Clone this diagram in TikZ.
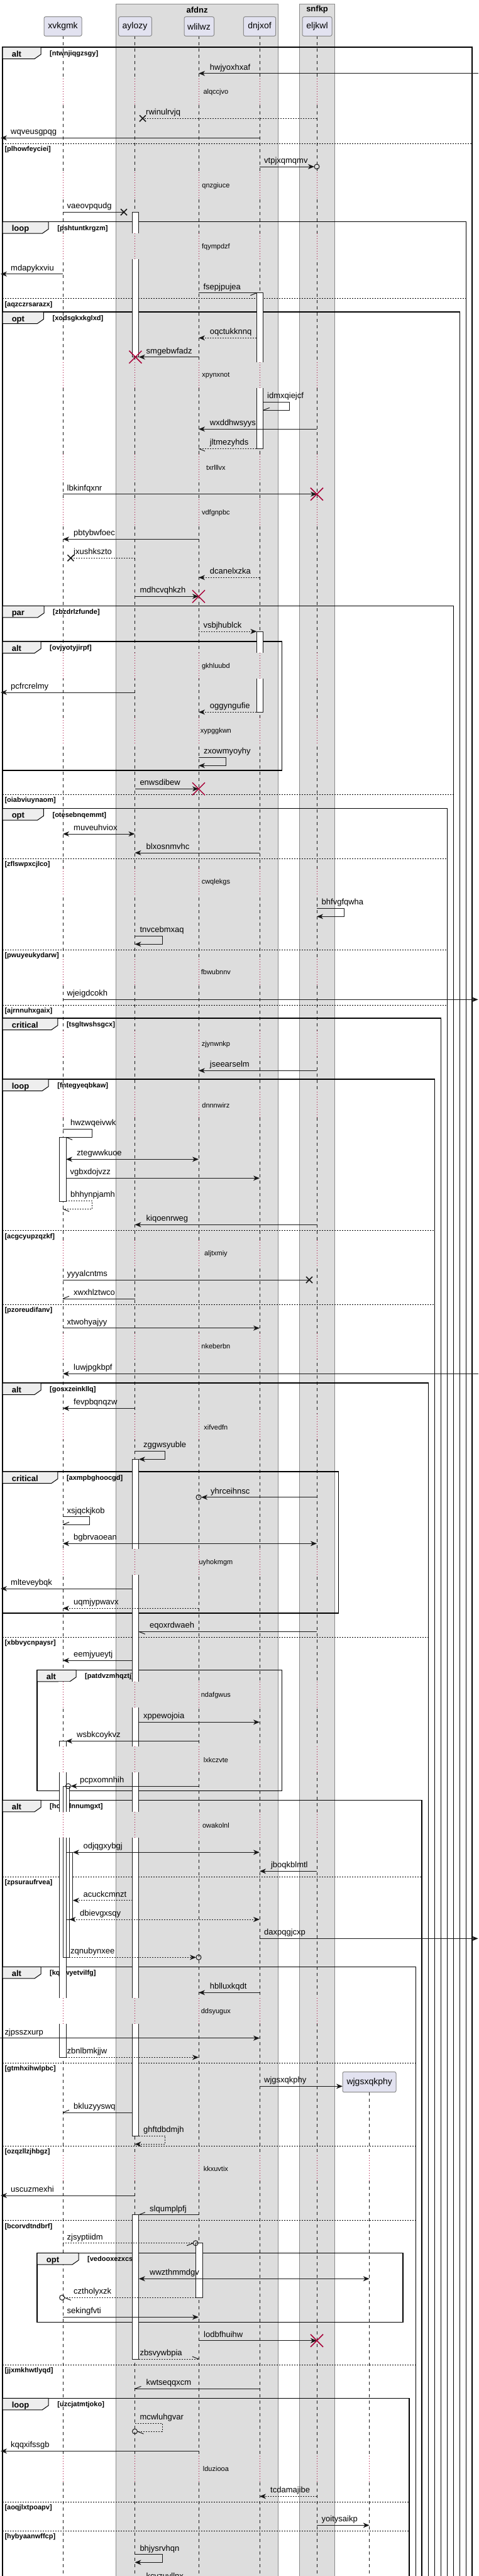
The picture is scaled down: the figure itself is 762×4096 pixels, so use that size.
\documentclass[tikz,border=0pt]{standalone}
\usepackage{fontspec}
\setmainfont{Liberation Sans}
\usetikzlibrary{arrows.meta}
\definecolor{linec}{HTML}{181818}
\definecolor{boxgray}{HTML}{DDDDDD}
\definecolor{boxborder}{HTML}{8A8A8A}
\definecolor{partfill}{HTML}{E2E2F0}
\definecolor{partborder}{HTML}{8A8A8A}
\definecolor{tabfill}{HTML}{EEEEEE}
\definecolor{destroyc}{HTML}{A80036}
\newcommand\fmsg{\fontsize{13}{15}\selectfont}
\newcommand\fdelay{\fontsize{11}{13}\selectfont}
\newcommand\fguard{\fontsize{11}{13}\selectfont\bfseries}
\newcommand\ftab{\fontsize{13}{15}\selectfont\bfseries}
\newcommand\fpart{\fontsize{14}{16}\selectfont}
\tikzset{
  msgline/.style={draw=linec, line width=1pt},
  dotl/.style={dash pattern=on 2pt off 2pt},
  arr/.style={-{Stealth[length=10pt,width=8pt,inset=3pt]}},
  darr/.style={{Stealth[length=10pt,width=8pt,inset=3pt]}-{Stealth[length=10pt,width=8pt,inset=3pt]}},
  lbl/.style={anchor=base west, inner sep=0pt, font=\fmsg},
  lifel/.style={draw=linec, line width=0.5pt, dash pattern=on 5pt off 5pt},
  delayl/.style={draw=destroyc, line width=1pt, dash pattern=on 1pt off 3pt},
  frameline/.style={draw=black, line width=1.5pt},
  sepline/.style={draw=black, line width=1pt, dash pattern=on 2pt off 2pt},
  guardtxt/.style={anchor=base west, inner sep=0pt, font=\fguard},
  tabtxt/.style={anchor=base west, inner sep=0pt, font=\ftab},
  delaytxt/.style={anchor=center, inner sep=0pt, font=\fdelay},
  partbox/.style={draw=partborder, fill=partfill, line width=1pt, rounded corners=2.5pt},
  grpbox/.style={draw=boxborder, fill=boxgray, line width=1pt},
  actline/.style={draw=linec, line width=1pt},
}
\newcommand\lab[3]{\node[lbl] at (#1,#2-5.5) {#3};}
\newcommand\halfh[4]{\draw[msgline] (#1,#2) -- ++(#3,#4);}
\newcommand\lostx[2]{\draw[draw=linec,line width=1.5pt] (#1-5,#2-5) -- (#1+5,#2+5) (#1-5,#2+5) -- (#1+5,#2-5);}
\newcommand\dstr[2]{\draw[draw=destroyc,line width=1.5pt] (#1-10,#2-10) -- (#1+10,#2+10) (#1-10,#2+10) -- (#1+10,#2-10);}
\newcommand\tipcirc[2]{\draw[msgline] (#1,#2) circle[radius=4pt];}
\newcommand\sqframe[7]{%
  \draw[frameline] (#1,#3) rectangle (#2,#4);
  \draw[draw=black,line width=1pt,fill=tabfill] (#1,#3) -- (#5,#3) -- (#5,#3+11.5) -- (#5-10,#3+18.5) -- (#1,#3+18.5) -- cycle;
  \node[tabtxt] at (#1+14.6,#3+15) {#6};
  \node[guardtxt] at (#5+14,#3+13.5) {[#7]};
}
\newcommand\sepl[4]{%
  \draw[sepline] (#1,#3) -- (#2,#3);
  \node[guardtxt] at (#1+3.3,#3+12.5) {[#4]};
}
\newcommand\actf[4]{\fill[white] (#1,#3) rectangle (#2,#4);}
\newcommand\actb[4]{\draw[actline] (#1,#3) rectangle (#2,#4);}
\newcommand\dly[2]{%
  \pgfmathsetmacro\da{#1-21.5}\pgfmathsetmacro\db{#1+19.5}%
  \fill[white] (92.5,\da) rectangle (117.5,\db);
  \fill[boxgray] (208.5,\da) rectangle (223,\db);
  \fill[boxgray] (310,\da) rectangle (323.5,\db);
  \fill[boxgray] (407,\da) rectangle (420.5,\db);
  \fill[boxgray] (502,\da) rectangle (506,\db);
  \foreach \lx in {100,214.5,316,413,504} {\draw[delayl] (\lx,\da) -- (\lx,\db);}
  \node[delaytxt] at (343.4,#1) {#2};
}
\newcommand\dlyw[2]{%
  \pgfmathsetmacro\da{#1-21.5}\pgfmathsetmacro\db{#1+19.5}%
  \fill[white] (585.7,\da) rectangle (589.7,\db);
  \draw[delayl] (587.7,\da) -- (587.7,\db);
  \dly{#1}{#2}
}
\def\XV{100}
\def\AY{214.5}
\def\WL{316}
\def\DN{413}
\def\EL{504}
\def\WJ{587.7}
\begin{document}
\begin{tikzpicture}[x=1pt,y=-1pt]
\useasboundingbox (0,0) rectangle (762,4096);
\clip (0,0) rectangle (762,4096);
\fill[white] (0,0) rectangle (762,4096);
% groups
\draw[grpbox] (184.7,6) rectangle (442.6,4200);
\draw[grpbox] (476.8,6) rectangle (532.5,4200);
\node[font=\ftab, anchor=center] (gafdnz) at (313.6,15.5) {afdnz};
\node[font=\ftab, anchor=center] (gsnfkp) at (504.6,15.5) {snfkp};
% lifelines
\foreach \lx in {100,214.5,316,413,504} {\draw[lifel] (\lx,57.3) -- (\lx,4200);}
\draw[lifel] (\WJ,3326.7) -- (\WJ,4200);
% frames
\sqframe{4}{751}{75}{4200}{65}{alt}{ntwnjiqgzsgy}
\sepl{4}{751}{228.3}{plhowfeyciei}
\sqframe{4}{741.6}{352.7}{4200}{77.2}{loop}{pshtuntkrgzm}
\sepl{4}{741.6}{474.7}{aqzczrsarazx}
\sqframe{4}{731.3}{496}{4200}{69.4}{opt}{xodsgkxkglxd}
\sqframe{4}{721.5}{963.3}{4200}{70}{par}{zbzdrlzfunde}
\sqframe{4}{448.5}{1020}{1225}{65}{alt}{ovjyotyjirpf}
\sepl{4}{721.5}{1263.3}{oiabviuynaom}
\sqframe{4}{711.3}{1285.7}{4200}{69.4}{opt}{otesebnqemmt}
\sepl{4}{711.3}{1365}{zflswpxcjlco}
\sepl{4}{711.3}{1510.3}{pwuyeukydarw}
\sepl{4}{711.3}{1598.3}{ajrnnuhxgaix}
\sqframe{4}{701.5}{1619}{4200}{91.8}{critical}{tsgltwshsgcx}
\sqframe{4}{691.3}{1716}{4200}{77.2}{loop}{fntegyeqbkaw}
\sepl{4}{691.3}{1956.7}{acgcyupzqzkf}
\sepl{4}{691.3}{2074}{pzoreudifanv}
\sqframe{4}{681.5}{2199}{4200}{65}{alt}{gosxzeinkllq}
\sqframe{4}{538.3}{2340}{2565}{91.8}{critical}{axmpbghoocgd}
\sepl{4}{681.5}{2603.3}{xbbvycnpaysr}
\sqframe{59.1}{448.5}{2655.3}{2847.7}{121}{alt}{patdvzmhqztj}
\sqframe{4}{671.2}{2862.3}{4200}{65}{alt}{hobtdnnumgxt}
\sepl{4}{671.2}{2984.3}{zpsuraufrvea}
\sqframe{4}{661.5}{3127.3}{4200}{65}{alt}{kqkwyetvilfg}
\sepl{4}{661.5}{3280}{gtmhxihwlpbc}
\sepl{4}{661.5}{3412.3}{ozqzllzjhbgz}
\sepl{4}{661.5}{3530.7}{bcorvdtndbrf}
\sqframe{59.1}{641}{3582.3}{3692.7}{125}{opt}{vedooxezxcsq}
\sepl{4}{661.5}{3760.3}{jjxmkhwtlyqd}
\sqframe{4}{651.2}{3813.3}{4200}{77.2}{loop}{uzcjatmtjoko}
\sepl{4}{651.2}{3978.3}{aoqjlxtpoapv}
\sepl{4}{651.2}{4024.3}{hybyaanwffcp}
% activations
\actf{210.5}{220.8}{337.3}{567.7}
\actf{408.4}{418.7}{465.7}{713.3}
\actf{408.4}{418.7}{1004}{1132.3}
\actf{94.3}{105}{1808.3}{1910.7}
\actf{210.5}{220.8}{2320.3}{3396}
\actf{94.3}{105}{2768.3}{3271.3}
\actf{100.2}{110.4}{2840}{3112.3}
\actf{105}{115.8}{2945.3}{3052}
\actf{210.5}{220.8}{3521.7}{3751}
\actf{311.7}{322}{3566.7}{3653.3}
\actb{210.5}{220.8}{337.3}{567.7}
\actb{408.4}{418.7}{465.7}{713.3}
\actb{408.4}{418.7}{1004}{1132.3}
\actb{94.3}{105}{1808.3}{1910.7}
\actb{210.5}{220.8}{2320.3}{3396}
\actb{94.3}{105}{2768.3}{3271.3}
\actb{100.2}{110.4}{2840}{3112.3}
\actb{105}{115.8}{2945.3}{3052}
\actb{210.5}{220.8}{3521.7}{3751}
\actb{311.7}{322}{3566.7}{3653.3}
% delays
\dly{146.7}{alqccjvo}
\dly{295.7}{qnzgiuce}
\dly{392.3}{fqympdzf}
\dly{597.3}{xpynxnot}
\dly{743.3}{txrlllvx}
\dly{815.3}{vdfgnpbc}
\dly{1059.3}{gkhluubd}
\dly{1162.7}{xypggkwn}
\dly{1402.3}{cwqlekgs}
\dly{1546}{fbwubnnv}
\dly{1660.3}{zjynwnkp}
\dly{1757.3}{dnnnwirz}
\dly{1993.3}{aljtxmiy}
\dly{2141}{nkeberbn}
\dly{2269.3}{xifvedfn}
\dly{2484.3}{uyhokmgm}
\dly{2695.3}{ndafgwus}
\dly{2798.3}{lxkczvte}
\dly{2902.3}{owakolnl}
\dly{3198.3}{ddsyugux}
\dlyw{3448.3}{kkxuvtix}
\dlyw{3926}{lduziooa}
% messages
\draw[msgline,arr] (760.6,116.7) -- (\WL,116.7); \lab{333.7}{116.7}{hwjyoxhxaf}
\draw[msgline,dotl] (\EL,188.3) -- (227,188.3); \lostx{227}{188.3} \lab{232}{188.3}{rwinulrvjq}
\draw[msgline,arr] (\DN,219.3) -- (1,219.3); \lab{17}{219.3}{wqveusgpqg}
\draw[msgline,arr] (\DN,265) -- (500,265); \tipcirc{504}{265} \lab{420}{265}{vtpjxqmqmv}
\draw[msgline] (\XV,337.3) -- (197,337.3); \lostx{197}{337.3} \lab{106.5}{337.3}{vaeovpqudg}
\draw[msgline,arr] (\XV,435.7) -- (1,435.7); \lab{17}{435.7}{mdapykxviu}
\draw[msgline] (\WL,465.7) -- (408.4,465.7); \halfh{408.4}{465.7}{-10}{4} \lab{323.4}{465.7}{fsepjpujea}
\draw[msgline,dotl,arr] (408.4,537.3) -- (\WL,537.3); \lab{333.7}{537.3}{oqctukknnq}
\draw[msgline,arr] (\WL,567.7) -- (220.8,567.7); \lab{232.5}{567.7}{smgebwfadz}
\dstr{215.4}{567.7}
\draw[msgline] (418.7,639.3) -- (460.7,639.3) -- (460.7,652.3) -- (418.7,652.3); \halfh{418.7}{652.3}{10}{-4} \lab{425}{639.3}{idmxqiejcf}
\draw[msgline,arr] (\EL,682.3) -- (\WL,682.3); \lab{333.7}{682.3}{wxddhwsyys}
\draw[msgline,dotl] (408.4,713.3) -- (\WL,713.3); \halfh{\WL}{713.3}{10}{4} \lab{333.7}{713.3}{jltmezyhds}
\draw[msgline,arr] (\XV,785.7) -- (\EL,785.7); \dstr{504}{785.7} \lab{106.5}{785.7}{lbkinfqxnr}
\draw[msgline,arr] (\WL,857.3) -- (\XV,857.3); \lab{117}{857.3}{pbtybwfoec}
\draw[msgline,dotl] (\AY,887.3) -- (112.4,887.3); \lostx{112.4}{887.3} \lab{117}{887.3}{jxushkszto}
\draw[msgline,dotl,arr] (\DN,918.3) -- (\WL,918.3); \lab{333.7}{918.3}{dcanelxzka}
\draw[msgline,arr] (\AY,948.3) -- (\WL,948.3); \dstr{316}{948.3} \lab{222.3}{948.3}{mdhcvqhkzh}
\draw[msgline,dotl,arr] (\WL,1004) -- (408.4,1004); \lab{323.4}{1004}{vsbjhublck}
\draw[msgline,arr] (\AY,1101) -- (1,1101); \lab{17}{1101}{pcfrcrelmy}
\draw[msgline,dotl,arr] (408.4,1132.3) -- (\WL,1132.3); \lab{333.7}{1132.3}{oggyngufie}
\draw[msgline,arr] (\WL,1204.3) -- (359.5,1204.3) -- (359.5,1217.3) -- (\WL,1217.3); \lab{324}{1204.3}{zxowmyoyhy}
\draw[msgline,arr] (\AY,1254.3) -- (\WL,1254.3); \dstr{316}{1254.3} \lab{222.3}{1254.3}{enwsdibew}
\draw[msgline,darr] (\XV,1326) -- (\AY,1326); \lab{117}{1326}{muveuhviox}
\draw[msgline,arr] (\DN,1356) -- (\AY,1356); \lab{232.5}{1356}{blxosnmvhc}
\draw[msgline,arr] (\EL,1444.3) -- (547,1444.3) -- (547,1457.3) -- (\EL,1457.3); \lab{511.5}{1444.3}{bhfvgfqwha}
\draw[msgline,arr] (\AY,1488.3) -- (258,1488.3) -- (258,1501.3) -- (\AY,1501.3); \lab{222.3}{1488.3}{tnvcebmxaq}
\draw[msgline,arr] (\XV,1589.3) -- (760.6,1589.3); \lab{106.5}{1589.3}{wjeigdcokh}
\draw[msgline,arr] (\EL,1702.3) -- (\WL,1702.3); \lab{333.7}{1702.3}{jseearselm}
\draw[msgline] (\XV,1795.3) -- (146.6,1795.3) -- (146.6,1808.3) -- (105,1808.3); \halfh{105}{1808.3}{10}{4} \lab{111.9}{1795.3}{hwzwqeivwk}
\draw[msgline,darr] (105,1843.3) -- (\WL,1843.3); \lab{122}{1843.3}{ztegwwkuoe}
\draw[msgline,arr] (105,1873.3) -- (\DN,1873.3); \lab{111.4}{1873.3}{vgbxdojvzz}
\draw[msgline,dotl] (105,1909.3) -- (146.6,1909.3) -- (146.6,1922.3) -- (\XV,1922.3); \halfh{\XV}{1922.3}{10}{4} \lab{111.9}{1909.3}{bhhynpjamh}
\draw[msgline,arr] (\EL,1947.3) -- (\AY,1947.3); \lab{232.5}{1947.3}{kiqoenrweg}
\draw[msgline] (\XV,2035) -- (492,2035); \lostx{492}{2035} \lab{106.5}{2035}{yyyalcntms}
\draw[msgline] (\AY,2065) -- (\XV,2065); \halfh{\XV}{2065}{10}{-4} \lab{117}{2065}{xwxhlztwco}
\draw[msgline,arr] (\XV,2111.7) -- (\DN,2111.7); \lab{106.5}{2111.7}{xtwohyajyy}
\draw[msgline,arr] (760.6,2184.3) -- (\XV,2184.3); \lab{117}{2184.3}{luwjpgkbpf}
\draw[msgline,arr] (\AY,2239.3) -- (\XV,2239.3); \lab{117}{2239.3}{fevpbqnqzw}
\draw[msgline,arr] (\AY,2307.3) -- (262.8,2307.3) -- (262.8,2320.3) -- (220.8,2320.3); \lab{228}{2307.3}{zggwsyuble}
\draw[msgline,arr] (\EL,2380.7) -- (320,2380.7); \tipcirc{316}{2380.7} \lab{335}{2380.7}{yhrceihnsc}
\draw[msgline] (\XV,2411.7) -- (142,2411.7) -- (142,2424.3) -- (\XV,2424.3); \halfh{\XV}{2424.3}{10}{-4} \lab{106.5}{2411.7}{xsjqckjkob}
\draw[msgline,darr] (\XV,2454.3) -- (\EL,2454.3); \lab{117}{2454.3}{bgbrvaoean}
\draw[msgline,arr] (210.5,2526) -- (1,2526); \lab{17}{2526}{mlteveybqk}
\draw[msgline,dotl,arr] (\WL,2557.3) -- (\XV,2557.3); \lab{117}{2557.3}{uqmjypwavx}
\draw[msgline] (\EL,2594.3) -- (220.8,2594.3); \halfh{220.8}{2594.3}{10}{4} \lab{238}{2594.3}{eqoxrdwaeh}
\draw[msgline,arr] (210.5,2640.3) -- (\XV,2640.3); \lab{117}{2640.3}{eemjyueytj}
\draw[msgline,arr] (220.8,2738.3) -- (\DN,2738.3); \lab{228}{2738.3}{xppewojoia}
\draw[msgline,arr] (\WL,2768.3) -- (105,2768.3); \lab{122}{2768.3}{wsbkcoykvz}
\draw[msgline,arr] (\WL,2840) -- (112.5,2840); \tipcirc{108.5}{2840} \lab{127}{2840}{pcpxomnhih}
\draw[msgline,darr] (115.8,2945.3) -- (\DN,2945.3); \lab{132.4}{2945.3}{odjqgxybgj}
\draw[msgline,arr] (\EL,2975.3) -- (\DN,2975.3); \lab{430.9}{2975.3}{jboqkblmtl}
\draw[msgline,dotl,arr] (210.5,3021.7) -- (115.8,3021.7); \lab{132.4}{3021.7}{acuckcmnzt}
\draw[msgline,dotl,darr] (110.4,3052) -- (\DN,3052); \lab{127}{3052}{dbievgxsqy}
\draw[msgline,arr] (\DN,3082.3) -- (760.6,3082.3); \lab{420}{3082.3}{daxpqgjcxp}
\draw[msgline,dotl,arr] (110.4,3112.3) -- (312,3112.3); \tipcirc{316}{3112.3} \lab{112}{3112.3}{zqnubynxee}
\draw[msgline,arr] (\DN,3168.3) -- (\WL,3168.3); \lab{333.7}{3168.3}{hblluxkqdt}
\draw[msgline,arr] (0,3240.7) -- (\DN,3240.7); \lab{7.3}{3240.7}{zjpsszxurp}
\draw[msgline,dotl,arr] (105,3271.3) -- (\WL,3271.3); \lab{106.5}{3271.3}{zbnlbmkjjw}
\draw[msgline,arr] (\DN,3317.3) -- (545,3317.3); \lab{420}{3317.3}{wjgsxqkphy}
\draw[msgline] (210.5,3359) -- (\XV,3359); \halfh{\XV}{3359}{10}{-4} \lab{117}{3359}{bkluzyyswq}
\draw[msgline,dotl,arr] (220.8,3396) -- (262.8,3396) -- (262.8,3409.3) -- (\AY,3409.3); \lab{228}{3396}{ghftdbdmjh}
\draw[msgline,arr] (\AY,3491) -- (1,3491); \lab{17}{3491}{uscuzmexhi}
\draw[msgline] (\WL,3521.7) -- (220.8,3521.7); \halfh{220.8}{3521.7}{10}{-4} \lab{238}{3521.7}{slqumplpfj}
\draw[msgline,dotl] (\XV,3566.7) -- (307.2,3566.7); \halfh{307.2}{3566.7}{-10}{4} \tipcirc{311.2}{3566.7} \lab{106.5}{3566.7}{zjsyptiidm}
\draw[msgline,darr] (220.8,3623.3) -- (\WJ,3623.3); \lab{238}{3623.3}{wwzthmmdgv}
\draw[msgline,dotl] (311.7,3653.3) -- (102.7,3653.3); \halfh{102.7}{3653.3}{10}{4} \tipcirc{98.7}{3653.3} \lab{117}{3653.3}{cztholyxzk}
\draw[msgline,arr] (\XV,3684.3) -- (\WL,3684.3); \lab{106.5}{3684.3}{sekingfvti}
\draw[msgline,arr] (\WL,3721.7) -- (\EL,3721.7); \dstr{504}{3721.7} \lab{324}{3721.7}{lodbfhuihw}
\draw[msgline,dotl] (220.8,3751) -- (\WL,3751); \halfh{\WL}{3751}{-10}{-4} \lab{222.3}{3751}{zbsvywbpia}
\draw[msgline] (\DN,3798.3) -- (\AY,3798.3); \halfh{\AY}{3798.3}{10}{-4} \lab{232.5}{3798.3}{kwtseqqxcm}
\draw[msgline,dotl] (\AY,3853.3) -- (258,3853.3) -- (258,3866) -- (218.5,3866); \halfh{218.5}{3866}{10}{4} \tipcirc{214.5}{3866} \lab{222.3}{3853.3}{mcwluhgvar}
\draw[msgline,arr] (\WL,3897.3) -- (1,3897.3); \lab{17}{3897.3}{kqqxifssgb}
\draw[msgline,dotl,arr] (\EL,3969.3) -- (\DN,3969.3); \lab{430}{3969.3}{tcdamajibe}
\draw[msgline,arr] (\EL,4015.3) -- (\WJ,4015.3); \lab{511.5}{4015.3}{yoitysaikp}
\draw[msgline,arr] (\AY,4061.7) -- (258,4061.7) -- (258,4074.3) -- (\AY,4074.3); \lab{222.3}{4061.7}{bhjysrvhqn}
\lab{232.5}{4106}{kcvzuvllnx}
% participants
\draw[partbox] (70,26.7) rectangle (130,57.3);
\node[font=\fpart] (pxvkgmk) at (100,42) {xvkgmk};
\draw[partbox] (188.6,26.7) rectangle (241.3,57.3);
\node[font=\fpart] (paylozy) at (214.5,42) {aylozy};
\draw[partbox] (293,26.7) rectangle (340.5,57.3);
\node[font=\fpart] (pwlilwz) at (316.5,42) {wlilwz};
\draw[partbox] (387.4,26.7) rectangle (438.7,57.3);
\node[font=\fpart] (pdnjxof) at (413,42) {dnjxof};
\draw[partbox] (481,26.7) rectangle (528,57.3);
\node[font=\fpart] (peljkwl) at (504.5,42) {eljkwl};
\draw[partbox] (545,3294.3) rectangle (630,3326.7);
\node[font=\fpart] (pwjgs) at (587.7,3310.5) {wjgsxqkphy};
\end{tikzpicture}
\end{document}
